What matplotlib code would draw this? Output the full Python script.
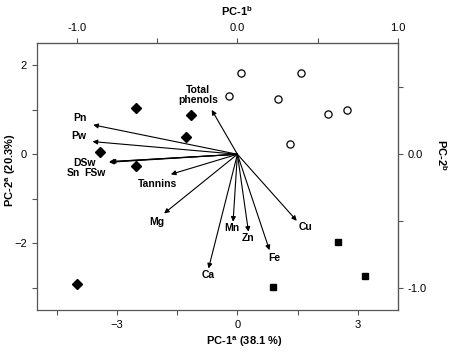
import matplotlib
matplotlib.use("Agg")
import matplotlib.pyplot as plt
from matplotlib.ticker import FixedLocator, FormatStrFormatter

plt.rcParams["font.family"] = ["Liberation Sans", "DejaVu Sans"]
plt.rcParams["mathtext.fontset"] = "custom"
plt.rcParams["mathtext.bf"] = "Liberation Sans:bold"
plt.rcParams["mathtext.rm"] = "Liberation Sans"

# sample scores (PC-1a, PC-2a)
diamond_x = [-2.54, -1.15, -1.27, -3.43, -2.54, -4.0]
diamond_y = [1.05, 0.88, 0.38, 0.06, -0.26, -2.92]
circle_x = [0.10, 1.58, -0.21, 1.00, 2.25, 2.73, 1.32]
circle_y = [1.82, 1.83, 1.31, 1.24, 0.91, 0.99, 0.23]
square_x = [2.52, 3.19, 0.90]
square_y = [-1.96, -2.73, -2.98]

# variable loadings (PC-1b, PC-2b)
variables = ["Pn", "Pw", "DSw", "Sn", "FSw", "Tannins", "Mg", "Mn", "Ca",
             "Zn", "Fe", "Cu", "Total\nphenols"]
load_x = [-0.899, -0.903, -0.80, -0.80, -0.79, -0.415, -0.457, -0.027, -0.18,
          0.069, 0.20, 0.37, -0.16]
load_y = [0.22, 0.095, -0.056, -0.06, -0.055, -0.15, -0.443, -0.505, -0.855,
          -0.58, -0.718, -0.498, 0.332]

# label positions (score units)
label_pos = [(-3.92, 0.81), (-3.96, 0.40), (-3.81, -0.19), (-4.10, -0.41),
             (-3.56, -0.42), (-2.0, -0.67), (-2.0, -1.51), (-0.14, -1.66),
             (-0.73, -2.71), (0.275, -1.89), (0.92, -2.32), (1.71, -1.64),
             (-0.98, 1.33)]

SX, SY = 4.0, 3.0   # score / loading scale factors
EDGE = "#555555"

fig = plt.figure(figsize=(4.5, 3.52), dpi=100)
ax = fig.add_axes([0.082, 0.119, 0.802, 0.759])
ax.set_xlim(-5, 4)
ax.set_ylim(-3.5, 2.5)

ax.plot(diamond_x, diamond_y, "D", ms=5.5, color="black", ls="none")
ax.plot(circle_x, circle_y, "o", ms=5.2, mfc="white", mec="black", mew=0.9, ls="none")
ax.plot(square_x, square_y, "s", ms=4.5, color="black", ls="none")

for lx, ly in zip(load_x, load_y):
    ax.annotate("", xy=(lx * SX, ly * SY), xytext=(0, 0),
                arrowprops=dict(arrowstyle="-|>", lw=0.8, color="black",
                                mutation_scale=7, shrinkA=0, shrinkB=0))
for name, (px, py) in zip(variables, label_pos):
    ax.text(px, py, name, ha="center", va="center", fontsize=7.5,
            fontweight="bold", linespacing=1.0)

for s in ax.spines.values():
    s.set_color(EDGE)
    s.set_linewidth(0.9)

ax.xaxis.set_major_locator(FixedLocator([-3, 0, 3]))
ax.xaxis.set_minor_locator(FixedLocator([-4.5, -1.5, 1.5]))
ax.yaxis.set_major_locator(FixedLocator([-2, 0, 2]))
ax.yaxis.set_minor_locator(FixedLocator([-3, -1, 1]))
ax.tick_params(which="both", direction="out", length=3.5, width=0.8,
               color=EDGE, labelsize=8)

top = ax.secondary_xaxis("top", functions=(lambda v: v / SX, lambda v: v * SX))
top.xaxis.set_major_locator(FixedLocator([-1.0, 0.0, 1.0]))
top.xaxis.set_minor_locator(FixedLocator([-0.5, 0.5]))
top.xaxis.set_major_formatter(FormatStrFormatter("%.1f"))
top.tick_params(which="both", direction="out", length=3.5, width=0.8,
                color=EDGE, labelsize=8)
top.spines["top"].set_color(EDGE)

right = ax.secondary_yaxis("right", functions=(lambda v: v / SY, lambda v: v * SY))
right.yaxis.set_major_locator(FixedLocator([-1.0, 0.0]))
right.yaxis.set_minor_locator(FixedLocator([-0.5, 0.5]))
right.yaxis.set_major_formatter(FormatStrFormatter("%.1f"))
right.tick_params(which="both", direction="out", length=3.5, width=0.8,
                  color=EDGE, labelsize=8)
right.spines["right"].set_color(EDGE)

fig.text(244 / 450, 1 - 342 / 352, r"PC-1$^{\mathbf{a}}$ (38.1 %)", ha="center",
         va="center", fontsize=8, fontweight="bold")
fig.text(237 / 450, 1 - 11 / 352, r"PC-1$^{\mathbf{b}}$", ha="center",
         va="center", fontsize=8, fontweight="bold")
fig.text(10.5 / 450, 1 - 170 / 352, r"PC-2$^{\mathbf{a}}$ (20.3%)", ha="center",
         va="center", rotation=90, fontsize=8, fontweight="bold")
fig.text(442 / 450, 1 - 155 / 352, r"PC-2$^{\mathbf{b}}$", ha="center",
         va="center", rotation=-90, fontsize=8, fontweight="bold")

fig.savefig("out.png", dpi=100)
